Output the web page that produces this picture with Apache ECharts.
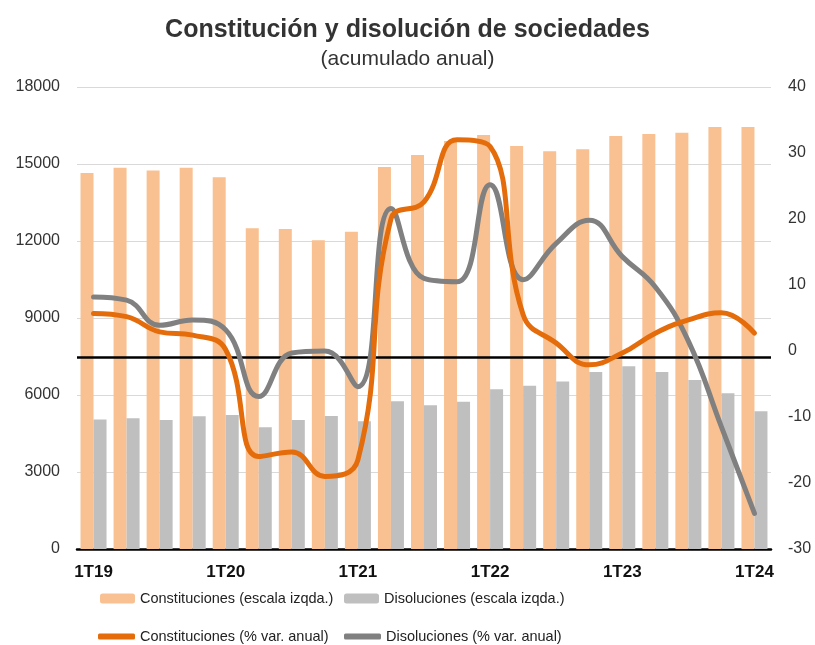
<!DOCTYPE html>
<html>
<head>
<meta charset="utf-8">
<script src="https://cdn.jsdelivr.net/npm/echarts@6/dist/echarts.min.js"></script>
<style>
  html, body { margin: 0; padding: 0; background: #fff; }
  #chart { width: 815px; height: 645px; }
</style>
</head>
<body>
<div id="chart"></div>
<script>
// trimestres 1T19 .. 1T24
const quarters = [
    '1T19', '2T19', '3T19', '4T19',
    '1T20', '2T20', '3T20', '4T20',
    '1T21', '2T21', '3T21', '4T21',
    '1T22', '2T22', '3T22', '4T22',
    '1T23', '2T23', '3T23', '4T23',
    '1T24'
];

// acumulado anual (escala izqda.)
const constituciones = [14650, 14850, 14750, 14850, 14480, 12500, 12470, 12030, 12360, 14880,
    15350, 15900, 16130, 15700, 15500, 15570, 16090, 16170, 16220, 16440, 16440];
const disoluciones = [5050, 5090, 5030, 5170, 5220, 4740, 5030, 5180, 4980, 5760,
    5600, 5740, 6220, 6360, 6530, 6900, 7120, 6900, 6580, 6070, 5370];

// % var. anual (escala dcha.)
const constitucionesVar = [5.7, 5.2, 2.9, 2.4, 0.2, -16.0, -15.3, -19.0, -16.5, 20.0,
    22.6, 32.0, 31.0, 5.5, 1.2, -2.1, -0.3, 2.7, 4.7, 5.8, 2.7];
const disolucionesVar = [8.2, 7.7, 3.9, 4.7, 3.2, -6.9, -0.3, 0.0, -5.4, 21.6,
    11.0, 10.5, 25.2, 10.8, 16.3, 19.8, 14.3, 9.7, 1.5, -11.5, -24.6];

const leftTicks = { min: 0, max: 18000, interval: 3000 };
const rightTicks = { min: -30, max: 40, interval: 10 };
const refLine = -0.9;

const FONT = 'Liberation Sans, Arial, Helvetica, sans-serif';

const chart = echarts.init(document.getElementById('chart'));

const legendText = { color: '#222', fontSize: 14.5, fontFamily: FONT };

const option = {
    animation: false,
    textStyle: { fontFamily: FONT },
    title: {
        text: 'Constitución y disolución de sociedades',
        subtext: '(acumulado anual)',
        left: 'center',
        top: 13,
        itemGap: 6,
        textStyle: { fontSize: 25, fontWeight: 'bold', color: '#333', fontFamily: FONT },
        subtextStyle: { fontSize: 21, color: '#333', fontFamily: FONT }
    },
    legend: [
        {
            data: ['Constituciones (escala izqda.)'],
            left: 95, top: 586,
            itemWidth: 35, itemHeight: 10,
            textStyle: legendText
        },
        {
            data: ['Disoluciones (escala izqda.)'],
            left: 339, top: 586,
            itemWidth: 35, itemHeight: 10,
            textStyle: legendText
        },
        {
            data: [{ name: 'Constituciones (% var. anual)', icon: 'roundRect' }],
            left: 93, top: 624,
            itemWidth: 37, itemHeight: 6,
            textStyle: legendText
        },
        {
            data: [{ name: 'Disoluciones (% var. anual)', icon: 'roundRect' }],
            left: 339, top: 624,
            itemWidth: 37, itemHeight: 6,
            textStyle: legendText
        }
    ],
    grid: { left: 77, right: 44, top: 87, bottom: 96 },
    xAxis: {
        type: 'category',
        data: quarters,
        axisTick: { show: false },
        axisLine: { lineStyle: { color: '#000', width: 2.5 } },
        axisLabel: {
            interval: 3,
            color: '#111',
            fontSize: 17,
            fontWeight: 'bold',
            margin: 15
        }
    },
    yAxis: [
        {
            type: 'value',
            min: leftTicks.min, max: leftTicks.max, interval: leftTicks.interval,
            axisLabel: { color: '#333', fontSize: 16, margin: 17, formatter: v => String(v) },
            axisLine: { show: false },
            axisTick: { show: false },
            splitLine: { lineStyle: { color: '#d9d9d9', width: 1 } }
        },
        {
            type: 'value',
            min: rightTicks.min, max: rightTicks.max, interval: rightTicks.interval,
            axisLabel: { color: '#333', fontSize: 16, margin: 17 },
            axisLine: { show: false },
            axisTick: { show: false },
            splitLine: { show: false }
        }
    ],
    series: [
        {
            name: 'Constituciones (escala izqda.)',
            type: 'bar',
            data: constituciones,
            barWidth: 13,
            barGap: '0%',
            itemStyle: { color: '#F9C191' }
        },
        {
            name: 'Disoluciones (escala izqda.)',
            type: 'bar',
            data: disoluciones,
            barWidth: 13,
            itemStyle: { color: '#BFBFBF' }
        },
        {
            name: 'Constituciones (% var. anual)',
            type: 'line',
            yAxisIndex: 1,
            data: constitucionesVar,
            smooth: 0.45,
            symbol: 'none',
            z: 4,
            lineStyle: { color: '#E46C0A', width: 5, cap: 'round' },
            itemStyle: { color: '#E46C0A' },
            markLine: {
                silent: true,
                symbol: 'none',
                label: { show: false },
                lineStyle: { color: '#000', width: 2.5, type: 'solid' },
                data: [{ yAxis: refLine }],
                z: 3
            }
        },
        {
            name: 'Disoluciones (% var. anual)',
            type: 'line',
            yAxisIndex: 1,
            data: disolucionesVar,
            smooth: 0.45,
            symbol: 'none',
            z: 3,
            lineStyle: { color: '#808080', width: 5, cap: 'round' },
            itemStyle: { color: '#808080' }
        }
    ]
};

chart.setOption(option);

window.addEventListener('resize', () => chart.resize());
</script>
</body>
</html>
